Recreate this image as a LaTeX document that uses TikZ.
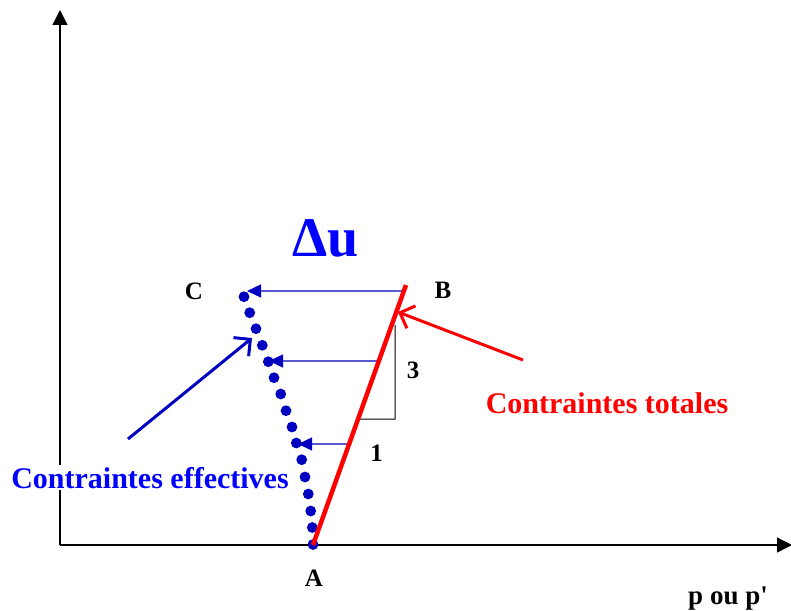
\documentclass[tikz,border=0pt]{standalone}
\usepackage{fontspec}
\setmainfont{Liberation Serif}
\newfontfamily\rawserif{Liberation Serif}
\usetikzlibrary{arrows.meta,calc}
\definecolor{brightblue}{HTML}{0000FF}
\definecolor{darkblue}{HTML}{0000C0}
\definecolor{pred}{HTML}{FF0000}
\begin{document}
\begin{tikzpicture}[x=1pt,y=-1pt,
  axis/.style={line width=1.3pt,black,-{Triangle[length=15pt,width=15pt]}},
  lbl/.style={inner sep=0pt,anchor=base,font=\bfseries\fontsize{25}{30}\selectfont},
  bigtxt/.style={inner sep=2pt,anchor=base,font=\bfseries\fontsize{30}{36}\selectfont},
  shiftarrow/.style={darkblue,line width=1.3pt,-{Triangle[length=14pt,width=13pt]}},
  leader/.style={line width=3pt,-{Straight Barb[length=12pt,width=24pt,line width=3pt]}},
  blob/.style={fill=darkblue}]
\useasboundingbox (0,0) rectangle (791,610);
% axes
\coordinate (O) at (60,545);
\coordinate (yend) at (60,10);
\coordinate (xend) at (792,545);
\draw[axis] (O) -- (yend);
\draw[axis] (O) -- (xend);
% main points
\coordinate (pA) at (313,545);
\coordinate (pB) at (406,285);
% effective stress path (dots)
\foreach \px/\py in {244/296.7,249.7/312.7,256/328.7,262.3/345.3,268.3/361.7,274/377.7,
  280.7/394,286/410.7,292/427,296.3/443,301.7/459.7,305/477,308.3/494,310.7/511,
  312.3/527.5,313/544.5}
  \fill[blob] (\px,\py) circle[radius=5.4pt];
% pore pressure arrows
\coordinate (t1) at (247,291);
\coordinate (t2) at (269,361);
\coordinate (t3) at (298,444);
\draw[shiftarrow] ($(pA)!0.977!(pB)$) -- (t1);
\draw[shiftarrow] ($(pA)!0.7077!(pB)$) -- (t2);
\draw[shiftarrow] ($(pA)!0.3885!(pB)$) -- (t3);
% slope triangle
\coordinate (s1) at ($(pA)!0.4846!(pB)$);
\coordinate (s2) at (395,419);
\coordinate (s3) at (395,325);
\draw[line width=1pt,black] (s1) -- (s2) -- (s3);
% total stress path
\draw[pred,line width=4.5pt] (pA) -- (pB);
% labels
\node[lbl] (lA) at (314,586) {A};
\node[lbl] (lB) at (443,298.5) {B};
\node[lbl] (lC) at (194,299.5) {C};
\node[lbl] (l3) at (413,378.5) {3};
\node[lbl] (l1) at (376.5,461.5) {1};
\node[lbl,font=\rawserif\bfseries\fontsize{27}{32}\selectfont] (lp) at (728,604) {p ou p'};
\node[inner sep=0pt,anchor=base,text=brightblue,font=\bfseries\fontsize{56}{64}\selectfont] (du) at (326,256.5) {Δu};
\node[bigtxt,text=pred] (tot) at (607,413) {Contraintes totales};
\node[bigtxt,text=brightblue,fill=white] (eff) at (150,488) {Contraintes effectives};
% leaders
\coordinate (rt0) at (523,360);
\coordinate (rt1) at (398,312);
\draw[leader,pred] (rt0) -- (rt1);
\coordinate (bt0) at (128,439);
\coordinate (bt1) at (252,338);
\draw[leader,darkblue] (bt0) -- (bt1);
\end{tikzpicture}
\end{document}
